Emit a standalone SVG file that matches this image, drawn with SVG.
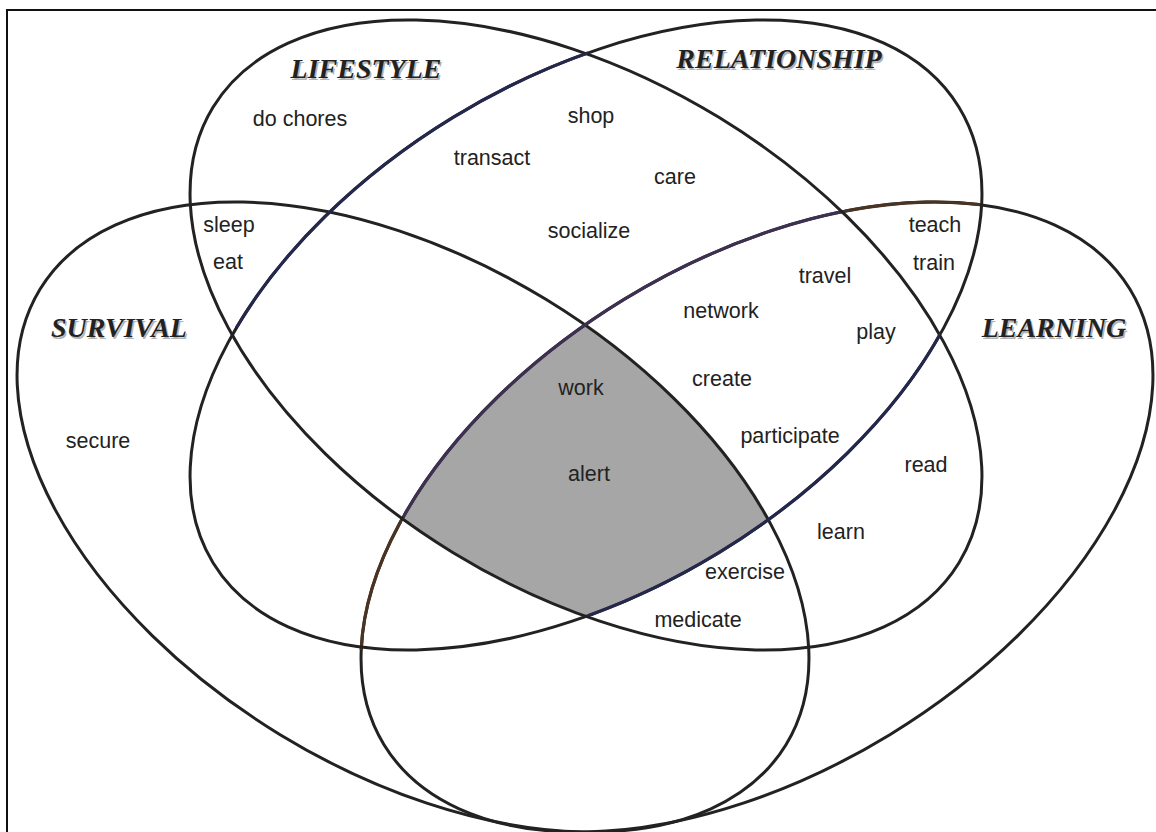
<svg xmlns="http://www.w3.org/2000/svg" width="1156" height="832" viewBox="0 0 1156 832">
<style>
.set{fill:none;stroke:#222;stroke-width:3}
.lbl{font-family:"Liberation Sans",Arial,sans-serif;font-size:21.5px;fill:#222;text-anchor:middle}
.ttl{font-family:"Liberation Serif","Times New Roman",serif;font-size:28px;font-weight:bold;font-style:italic;fill:#222;text-anchor:middle}
.sh{fill:#b4b4b4}
</style>
<defs>
<clipPath id="cpLearn"><ellipse cx="757" cy="517" rx="437" ry="255" transform="rotate(-31.4 757 517)"/></clipPath>
<clipPath id="cpLife"><ellipse cx="586" cy="335" rx="437" ry="255" transform="rotate(31.4 586 335)"/></clipPath>
<clipPath id="cpRel"><ellipse cx="586" cy="335" rx="437" ry="255" transform="rotate(-31.4 586 335)"/></clipPath>
<clipPath id="rA"><rect x="232" y="45" width="356" height="282"/></clipPath>
<clipPath id="rB"><rect x="588" y="330" width="352" height="286"/></clipPath>
<clipPath id="rC"><rect x="403" y="210" width="442" height="308"/></clipPath>
<clipPath id="rD"><rect x="845" y="188" width="135" height="28"/></clipPath>
<clipPath id="rE"><rect x="352" y="518" width="50" height="132"/></clipPath>
</defs>
<rect x="0" y="0" width="1156" height="832" fill="#fff"/>
<path d="M7 832 V10 H1156" fill="none" stroke="#111" stroke-width="2"/>

<g id="core-fill" clip-path="url(#cpLearn)">
<g clip-path="url(#cpLife)">
<g clip-path="url(#cpRel)">
<ellipse cx="413" cy="517" rx="437" ry="255" transform="rotate(31.4 413 517)" fill="#a6a6a6"/>
</g></g></g>

<g id="survival">
<ellipse class="set" cx="413" cy="517" rx="437" ry="255" transform="rotate(31.4 413 517)"/>
<text class="ttl sh" x="120.5" y="338.5">SURVIVAL</text>
<text class="ttl" x="119" y="337">SURVIVAL</text>
</g>
<g id="learning">
<ellipse class="set" cx="757" cy="517" rx="437" ry="255" transform="rotate(-31.4 757 517)"/>
<g clip-path="url(#rC)"><ellipse cx="757" cy="517" rx="437" ry="255" transform="rotate(-31.4 757 517)" fill="none" stroke="#3d3050" stroke-width="3.2"/></g>
<g clip-path="url(#rD)"><ellipse cx="757" cy="517" rx="437" ry="255" transform="rotate(-31.4 757 517)" fill="none" stroke="#4a3322" stroke-width="3.2"/></g>
<g clip-path="url(#rE)"><ellipse cx="757" cy="517" rx="437" ry="255" transform="rotate(-31.4 757 517)" fill="none" stroke="#4a3322" stroke-width="3.2"/></g>
<text class="ttl sh" x="1055.5" y="338.5">LEARNING</text>
<text class="ttl" x="1054" y="337">LEARNING</text>
</g>
<g id="lifestyle">
<ellipse class="set" cx="586" cy="335" rx="437" ry="255" transform="rotate(31.4 586 335)"/>
<text class="ttl sh" x="367.5" y="79.5">LIFESTYLE</text>
<text class="ttl" x="366" y="78">LIFESTYLE</text>
</g>
<g id="relationship">
<ellipse class="set" cx="586" cy="335" rx="437" ry="255" transform="rotate(-31.4 586 335)"/>
<g clip-path="url(#rA)"><ellipse cx="586" cy="335" rx="437" ry="255" transform="rotate(-31.4 586 335)" fill="none" stroke="#25284d" stroke-width="3.2"/></g>
<g clip-path="url(#rB)"><ellipse cx="586" cy="335" rx="437" ry="255" transform="rotate(-31.4 586 335)" fill="none" stroke="#25284d" stroke-width="3.2"/></g>
<text class="ttl sh" x="780.5" y="69.5">RELATIONSHIP</text>
<text class="ttl" x="779" y="68">RELATIONSHIP</text>
</g>

<g id="labels">
<text class="lbl" x="300" y="126">do chores</text>
<text class="lbl" x="492" y="165">transact</text>
<text class="lbl" x="591" y="123">shop</text>
<text class="lbl" x="675" y="184">care</text>
<text class="lbl" x="589" y="238">socialize</text>
<text class="lbl" x="229" y="232">sleep</text>
<text class="lbl" x="228" y="269">eat</text>
<text class="lbl" x="935" y="232">teach</text>
<text class="lbl" x="934" y="270">train</text>
<text class="lbl" x="825" y="283">travel</text>
<text class="lbl" x="721" y="318">network</text>
<text class="lbl" x="876" y="339">play</text>
<text class="lbl" x="722" y="386">create</text>
<text class="lbl" x="790" y="443">participate</text>
<text class="lbl" x="926" y="472">read</text>
<text class="lbl" x="841" y="539">learn</text>
<text class="lbl" x="581" y="395">work</text>
<text class="lbl" x="589" y="481">alert</text>
<text class="lbl" x="745" y="579">exercise</text>
<text class="lbl" x="698" y="627">medicate</text>
<text class="lbl" x="98" y="448">secure</text>
</g>
</svg>
